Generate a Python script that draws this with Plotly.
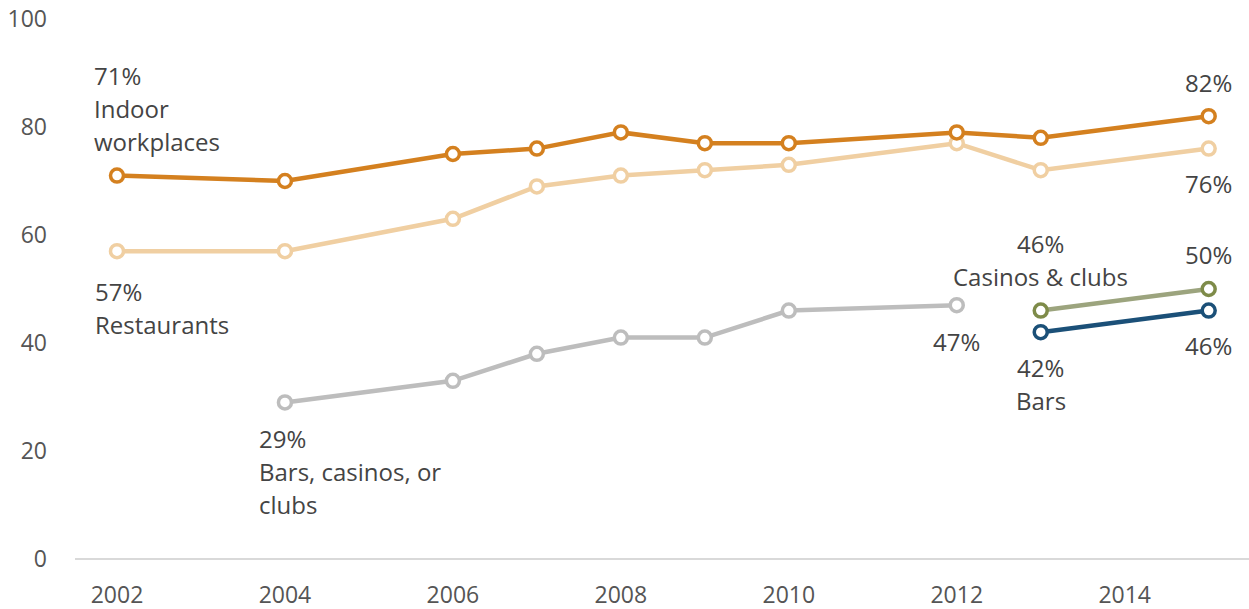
import plotly.graph_objects as go

years_all = [2002, 2004, 2006, 2007, 2008, 2009, 2010, 2012, 2013, 2015]
indoor = [71, 70, 75, 76, 79, 77, 77, 79, 78, 82]
restaurants = [57, 57, 63, 69, 71, 72, 73, 77, 72, 76]
years_bcc = [2004, 2006, 2007, 2008, 2009, 2010, 2012]
bars_casinos_clubs = [29, 33, 38, 41, 41, 46, 47]
years_new = [2013, 2015]
casinos_clubs = [46, 50]
bars = [42, 46]
x_ticks = [2002, 2004, 2006, 2008, 2010, 2012, 2014]
y_ticks = [0, 20, 40, 60, 80, 100]

FONT = "Open Sans"
TXT = "#444444"
ASIZE = 24

fig = go.Figure()

def add_series(x, y, line_color, marker_color):
    fig.add_trace(go.Scatter(
        x=x, y=y, mode="lines+markers",
        line=dict(color=line_color, width=4.5),
        marker=dict(size=13, color="white", line=dict(color=marker_color, width=3.5)),
        showlegend=False, hoverinfo="skip", cliponaxis=False,
    ))

add_series(years_all, restaurants, "#F0CFA2", "#F0CFA2")
add_series(years_all, indoor, "#D4801F", "#D4801F")
add_series(years_bcc, bars_casinos_clubs, "#BDBDBD", "#BDBDBD")
add_series(years_new, casinos_clubs, "#9CA47E", "#7E8B49")
add_series(years_new, bars, "#1B5078", "#1B5078")

ann = []
def label(x, y, lines, yshift0, align="left", xshift=0, step=33):
    for i, t in enumerate(lines):
        ann.append(dict(
            x=x, y=y, xref="x", yref="y", text=t, showarrow=False,
            xanchor=align, yanchor="middle",
            xshift=xshift, yshift=yshift0 - i * step,
            font=dict(family=FONT, size=ASIZE, color=TXT),
        ))

label(years_all[0], indoor[0], [f"{indoor[0]}%", "Indoor", "workplaces"], 100, "left", -25)
label(years_all[0], restaurants[0], [f"{restaurants[0]}%", "Restaurants"], -40, "left", -24)
label(years_bcc[0], bars_casinos_clubs[0], [f"{bars_casinos_clubs[0]}%", "Bars, casinos, or", "clubs"], -36, "left", -28)
label(years_bcc[-1], bars_casinos_clubs[-1], [f"{bars_casinos_clubs[-1]}%"], -36, "center")
label(years_new[0], casinos_clubs[0], [f"{casinos_clubs[0]}%", "Casinos & clubs"], 67, "center")
label(years_new[0], bars[0], [f"{bars[0]}%", "Bars"], -35, "center")
label(years_all[-1], indoor[-1], [f"{indoor[-1]}%"], 34, "center")
label(years_all[-1], restaurants[-1], [f"{restaurants[-1]}%"], -35, "center")
label(years_new[-1], casinos_clubs[-1], [f"{casinos_clubs[-1]}%"], 35, "center")
label(years_new[-1], bars[-1], [f"{bars[-1]}%"], -35, "center")

fig.update_layout(
    width=1249, height=609,
    margin=dict(l=75, r=0, t=19, b=50),
    paper_bgcolor="white", plot_bgcolor="white",
    font=dict(family=FONT, size=23, color="#555555"),
    annotations=ann,
    xaxis=dict(
        range=[2001.5, 2015.48], tickvals=x_ticks, showgrid=False, zeroline=False,
        showline=False, ticks="", ticklabelstandoff=20,
        tickfont=dict(family=FONT, size=23, color="#555555"),
    ),
    yaxis=dict(
        range=[0, 100], tickvals=y_ticks, showgrid=False, zeroline=True,
        zerolinecolor="#D9D9D9", zerolinewidth=2, showline=False, ticks="",
        ticklabelstandoff=27,
        tickfont=dict(family=FONT, size=23, color="#555555"),
    ),
)

fig.write_html("out.html")
